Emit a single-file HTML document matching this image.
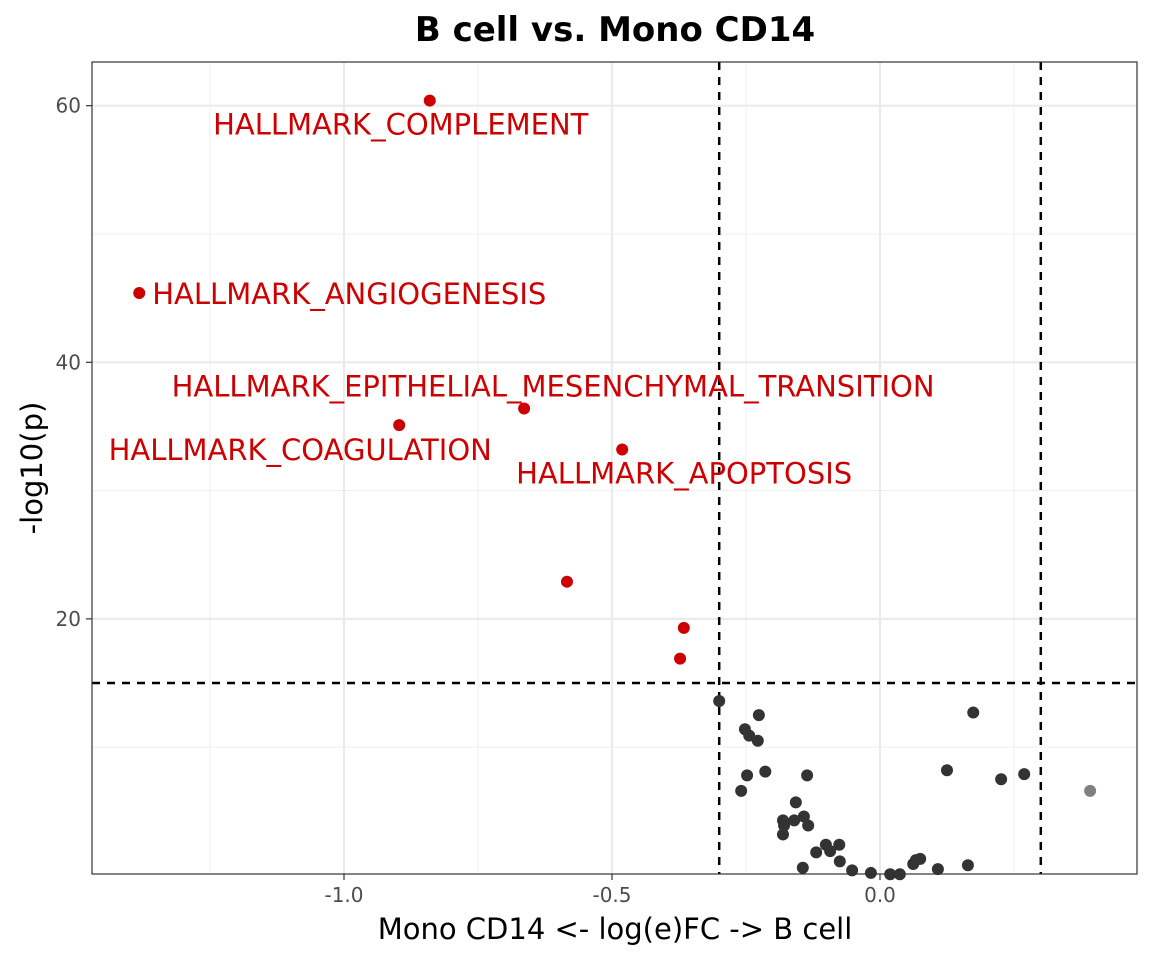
<!DOCTYPE html>
<html><head><meta charset="utf-8"><style>
body{margin:0;background:#fff;}
svg text{font-family:"DejaVu Sans","Liberation Sans",sans-serif;}
</style></head><body>
<svg id="chart" width="1152" height="960" xmlns="http://www.w3.org/2000/svg">
<text x="615" y="41" text-anchor="middle" font-size="34" font-weight="bold" fill="#000">B cell vs. Mono CD14</text>
<g id="grid"></g>
<g id="guides"></g>
<g id="points"></g>
<g id="labels"></g>
<rect x="92" y="62" width="1045" height="812" fill="none" stroke="#333" stroke-width="1.2"/>
<g id="axes"></g>
<text x="615" y="939" text-anchor="middle" font-size="29" fill="#000">Mono CD14 &lt;- log(e)FC -&gt; B cell</text>
<text transform="translate(42,468) rotate(-90)" text-anchor="middle" font-size="29" fill="#000">-log10(p)</text>
</svg>
<script>
const xTicks=[-1.0,-0.5,0.0];
const xTickLabels=["-1.0","-0.5","0.0"];
const xMinor=[-1.25,-0.75,-0.25,0.25];
const yTicks=[20,40,60];
const yMinor=[10,30,50];
const fcThresh=[-0.3,0.3];
const pThresh=15;
const sigX=[-0.840,-1.382,-0.664,-0.897,-0.481,-0.584,-0.366,-0.373];
const sigY=[60.4,45.4,36.4,35.1,33.2,22.9,19.3,16.9];
const nsX=[-0.300,-0.252,-0.226,-0.244,-0.228,-0.248,-0.259,-0.214,-0.136,-0.157,-0.181,-0.160,-0.142,-0.179,-0.181,-0.134,-0.119,-0.101,-0.093,-0.076,-0.075,-0.144,-0.052,-0.017,0.019,0.037,0.062,0.067,0.075,0.108,0.164,0.125,0.174,0.226,0.269];
const nsY=[13.6,11.4,12.5,10.9,10.5,7.8,6.6,8.1,7.8,5.7,4.3,4.3,4.6,3.9,3.2,3.9,1.8,2.4,1.9,2.4,1.1,0.6,0.4,0.2,0.1,0.1,0.9,1.2,1.3,0.5,0.8,8.2,12.7,7.5,7.9];
const outX=[0.392];
const outY=[6.6];
const labelText=["HALLMARK_COMPLEMENT","HALLMARK_ANGIOGENESIS","HALLMARK_EPITHELIAL_MESENCHYMAL_TRANSITION","HALLMARK_COAGULATION","HALLMARK_APOPTOSIS"];
const labelIdx=[0,1,2,3,4];
const labelDx=[-29,13,29,-99,62];
const labelDy=[34,11,-12,35,34];
const labelAnchor=["middle","start","middle","middle","middle"];

const X=v=>880+v*536, Y=v=>875.5-v*12.83;
const NS="http://www.w3.org/2000/svg";
function mk(parent,tag,attrs){const e=document.createElementNS(NS,tag);for(const k in attrs)e.setAttribute(k,attrs[k]);document.getElementById(parent).appendChild(e);return e;}
xMinor.forEach(v=>{const l=mk('grid','line',{x1:X(v),x2:X(v),y1:62,y2:874,stroke:'#f0f0f0','stroke-width':1.1});});
yMinor.forEach(v=>{const l=mk('grid','line',{x1:92,x2:1137,y1:Y(v),y2:Y(v),stroke:'#f0f0f0','stroke-width':1.1});});
xTicks.forEach((v,i)=>{const l=mk('grid','line',{x1:X(v),x2:X(v),y1:62,y2:874,stroke:'#ebebeb','stroke-width':2.2});
 const t=mk('axes','line',{x1:X(v),x2:X(v),y1:874,y2:880,stroke:'#333','stroke-width':1.2});
 const s=mk('axes','text',{x:X(v),y:902,'text-anchor':'middle','font-size':20,fill:'#4d4d4d'});s.textContent=xTickLabels[i];});
yTicks.forEach(v=>{const l=mk('grid','line',{x1:92,x2:1137,y1:Y(v),y2:Y(v),stroke:'#ebebeb','stroke-width':2.2});
 const t=mk('axes','line',{x1:86,x2:92,y1:Y(v),y2:Y(v),stroke:'#333','stroke-width':1.2});
 const s=mk('axes','text',{x:81,y:Y(v)+7,'text-anchor':'end','font-size':20,fill:'#4d4d4d'});s.textContent=String(v);});
fcThresh.forEach(v=>{const l=mk('guides','line',{x1:X(v),x2:X(v),y1:62,y2:874,stroke:'#000','stroke-width':2.5,'stroke-dasharray':'8,7'});});
{const l=mk('guides','line',{x1:92,x2:1137,y1:Y(pThresh),y2:Y(pThresh),stroke:'#000','stroke-width':2.5,'stroke-dasharray':'8,7'});}
nsX.forEach((v,i)=>{const c=mk('points','circle',{cx:X(v),cy:Y(nsY[i]),r:6,fill:'#333333'});});
outX.forEach((v,i)=>{const c=mk('points','circle',{cx:X(v),cy:Y(outY[i]),r:6,fill:'#808080'});});
sigX.forEach((v,i)=>{const c=mk('points','circle',{cx:X(v),cy:Y(sigY[i]),r:6,fill:'#cc0000'});});
labelIdx.forEach((k,i)=>{const t=mk('labels','text',{x:X(sigX[k])+labelDx[i],y:Y(sigY[k])+labelDy[i],'text-anchor':labelAnchor[i],'font-size':29,fill:'#cc0000'});t.textContent=labelText[i];});
</script>
</body></html>
